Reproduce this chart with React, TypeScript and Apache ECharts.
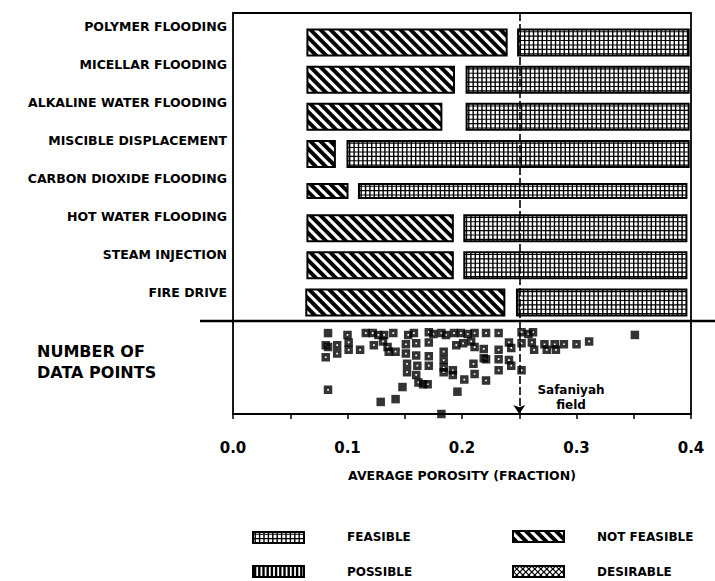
import React, { useEffect, useRef } from 'react';
import * as echarts from 'echarts';

// ---------- data ----------
const methods = [
  'POLYMER FLOODING',
  'MICELLAR FLOODING',
  'ALKALINE WATER FLOODING',
  'MISCIBLE DISPLACEMENT',
  'CARBON DIOXIDE FLOODING',
  'HOT WATER FLOODING',
  'STEAM INJECTION',
  'FIRE DRIVE',
];
const notFeasibleFrom = [0.065, 0.065, 0.065, 0.065, 0.065, 0.065, 0.065, 0.064];
const notFeasibleTo = [0.239, 0.193, 0.182, 0.089, 0.1, 0.192, 0.192, 0.237];
const feasibleFrom = [0.249, 0.204, 0.204, 0.1, 0.11, 0.202, 0.202, 0.248];
const feasibleTo = [0.398, 0.398, 0.398, 0.398, 0.396, 0.396, 0.396, 0.396];

const safaniyahPorosity = 0.25;

// data points (porosity, vertical position in the strip)
const pointPorosity = [
  0.1, 0.116, 0.122, 0.127, 0.132, 0.14, 0.153, 0.158, 0.171, 0.175, 0.182, 0.186, 0.193, 0.199, 0.205, 0.211, 0.221, 0.232, 0.252, 0.258, 0.262,
  0.081, 0.091, 0.101, 0.123, 0.131, 0.151, 0.16, 0.171, 0.195, 0.201, 0.208, 0.241, 0.252, 0.261, 0.272, 0.281, 0.289, 0.3, 0.311,
  0.083, 0.091, 0.101, 0.111, 0.135, 0.136, 0.142, 0.184, 0.211, 0.219, 0.232, 0.243, 0.263, 0.274, 0.282,
  0.081, 0.151, 0.16, 0.171, 0.184, 0.221, 0.232, 0.241, 0.219,
  0.152, 0.161, 0.171, 0.21, 0.243, 0.184,
  0.152, 0.16, 0.184, 0.192, 0.192, 0.211, 0.232, 0.252,
  0.162, 0.17, 0.202, 0.221,
  0.083,
];
const pointLevel = [
  8.5, 8.7, 8.7, 8.5, 8.5, 8.7, 8.5, 8.7, 8.8, 8.6, 8.7, 8.5, 8.7, 8.7, 8.6, 8.7, 8.7, 8.7, 8.8, 8.6, 8.8,
  7.4, 7.4, 7.7, 7.4, 7.8, 7.5, 7.6, 7.7, 7.4, 7.6, 7.8, 7.7, 7.6, 7.7, 7.5, 7.5, 7.5, 7.5, 7.8,
  7.2, 6.5, 6.9, 6.9, 7.2, 6.7, 6.7, 6.7, 7.2, 7.0, 6.9, 7.1, 6.9, 6.9, 6.9,
  6.1, 6.5, 6.3, 6.2, 5.8, 5.9, 5.9, 5.8, 6.0,
  5.4, 5.2, 5.2, 5.4, 5.2, 5.0,
  4.5, 4.2, 4.5, 4.7, 4.2, 4.3, 4.7, 4.7,
  3.4, 3.2, 3.7, 3.6,
  2.6,
];
const solidPorosity = [0.083, 0.351, 0.148, 0.142, 0.129, 0.196, 0.166, 0.182];
const solidLevel = [8.7, 8.5, 2.9, 1.6, 1.3, 2.4, 3.2, 0.0];

const FONT = '"DejaVu Sans", "Liberation Sans", sans-serif';

// ---------- pattern helpers ----------
type Pt = [number, number];
function clipHalf(poly: Pt[], f: (p: Pt) => number): Pt[] {
  const out: Pt[] = [];
  for (let i = 0; i < poly.length; i++) {
    const a = poly[i];
    const b = poly[(i + 1) % poly.length];
    const fa = f(a);
    const fb = f(b);
    if (fa >= 0) out.push(a);
    if ((fa >= 0) !== (fb >= 0)) {
      const t = fa / (fa - fb);
      out.push([a[0] + t * (b[0] - a[0]), a[1] + t * (b[1] - a[1])]);
    }
  }
  return out;
}
function bands(x0: number, y0: number, x1: number, y1: number, period: number, width: number, dir: number) {
  const rect: Pt[] = [[x0, y0], [x1, y0], [x1, y1], [x0, y1]];
  const u = (p: Pt) => p[0] - dir * p[1];
  const us = rect.map(u);
  const umin = Math.min(...us);
  const umax = Math.max(...us);
  const base = u([x0, y0]);
  const els: any[] = [];
  const nStart = Math.floor((umin - base) / period) - 1;
  const nEnd = Math.ceil((umax - base) / period) + 1;
  for (let n = nStart; n <= nEnd; n++) {
    const k = base + n * period;
    let poly = clipHalf(rect, (p) => u(p) - k);
    poly = clipHalf(poly, (p) => k + width - u(p));
    if (poly.length >= 3) {
      els.push({ type: 'polygon', shape: { points: poly }, style: { fill: '#000' }, silent: true });
    }
  }
  return els;
}
function gridLines(x0: number, y0: number, x1: number, y1: number, px: number, py: number, lwx: number, lwy: number) {
  const els: any[] = [];
  for (let x = x0 + px / 2; x < x1 - 0.5; x += px) {
    els.push({ type: 'line', shape: { x1: x, y1: y0, x2: x, y2: y1 }, style: { stroke: '#000', lineWidth: lwx }, silent: true });
  }
  if (py > 0) {
    for (let y = y0 + py / 2; y < y1 - 0.5; y += py) {
      els.push({ type: 'line', shape: { x1: x0, y1: y, x2: x1, y2: y }, style: { stroke: '#000', lineWidth: lwy }, silent: true });
    }
  }
  return els;
}
function swatch(kind: string, x0: number, y0: number, x1: number, y1: number) {
  const els: any[] = [
    { type: 'rect', shape: { x: x0, y: y0, width: x1 - x0, height: y1 - y0 }, style: { fill: '#fff' }, silent: true },
  ];
  if (kind === 'notFeasible') els.push(...bands(x0, y0, x1, y1, 10, 5.6, 1));
  else if (kind === 'feasible') els.push(...gridLines(x0, y0, x1, y1, 4.4, 4.4, 1.4, 1.1));
  else if (kind === 'possible') els.push(...gridLines(x0, y0, x1, y1, 4.2, 0, 2.4, 0));
  else if (kind === 'desirable') {
    els.push(...bands(x0, y0, x1, y1, 6, 1.6, 1), ...bands(x0, y0, x1, y1, 6, 1.6, -1));
  }
  els.push({
    type: 'rect',
    shape: { x: x0, y: y0, width: x1 - x0, height: y1 - y0 },
    style: { fill: 'none', stroke: '#000', lineWidth: 2 },
    silent: true,
  });
  return els;
}

function barRenderer(kind: string) {
  return (params: any, api: any) => {
    const row = api.value(0);
    const a = api.coord([api.value(1), row]);
    const b = api.coord([api.value(2), row]);
    const band = api.size([0, 1])[1];
    const thick = band * (row === 4 ? 0.38 : 0.7);
    const y0 = a[1] - thick / 2;
    const y1 = a[1] + thick / 2;
    return { type: 'group', children: swatch(kind, a[0], y0, b[0], y1) };
  };
}

export default function App() {
  const ref = useRef<HTMLDivElement>(null);
  useEffect(() => {
    document.body.style.margin = '0';
    const chart = echarts.init(ref.current!, null, { renderer: 'svg' });
    const left = 233;
    const width = 458;

    const legendItems = [
      { kind: 'feasible', label: 'FEASIBLE', sx: 253, sy: 532, tx: 347, ty: 537 },
      { kind: 'notFeasible', label: 'NOT FEASIBLE', sx: 513, sy: 531, tx: 597, ty: 537 },
      { kind: 'possible', label: 'POSSIBLE', sx: 253, sy: 566, tx: 347, ty: 572 },
      { kind: 'desirable', label: 'DESIRABLE', sx: 513, sy: 566, tx: 597, ty: 572 },
    ];
    const legendEls: any[] = [];
    legendItems.forEach((it) => {
      legendEls.push({ type: 'group', children: swatch(it.kind, it.sx, it.sy, it.sx + 51, it.sy + 11) });
      legendEls.push({
        type: 'text',
        style: {
          text: it.label, x: it.tx, y: it.ty,
          font: `bold 12px ${FONT}`, fill: '#000',
          textAlign: 'left', textVerticalAlign: 'middle', align: 'left', verticalAlign: 'middle',
        },
      });
    });

    const option: any = {
      animation: false,
      backgroundColor: '#fff',
      grid: [
        { left, width, top: 7, height: 305 }, // labels
        { left, width, top: 24, height: 297 }, // bars
        { left, width, top: 321, height: 93 }, // data points
        { left, width, top: 13, height: 401, show: true, borderColor: '#000', borderWidth: 1.8, backgroundColor: 'transparent' },
      ],
      xAxis: [
        { gridIndex: 0, type: 'value', min: 0, max: 0.4, show: false },
        { gridIndex: 1, type: 'value', min: 0, max: 0.4, show: false },
        {
          gridIndex: 2, type: 'value', min: 0, max: 0.4, interval: 0.05,
          axisLine: { show: true, lineStyle: { color: '#000', width: 2 } },
          axisTick: { show: true, length: 5, lineStyle: { color: '#000', width: 1.5 } },
          splitLine: { show: false },
          axisLabel: {
            margin: 26, color: '#000', fontFamily: FONT, fontWeight: 'bold', fontSize: 15,
            formatter: (v: number) => (Math.round(v / 0.05) % 2 === 0 ? v.toFixed(1) : ''),
          },
          name: 'AVERAGE POROSITY (FRACTION)', nameLocation: 'middle', nameGap: 55,
          nameTextStyle: { color: '#000', fontFamily: FONT, fontWeight: 'bold', fontSize: 12.5 },
        },
        { gridIndex: 3, type: 'value', min: 0, max: 0.4, show: false },
      ],
      yAxis: [
        {
          gridIndex: 0, type: 'category', inverse: true, data: methods,
          axisLine: { show: false }, axisTick: { show: false }, splitLine: { show: false },
          axisLabel: { margin: 6, color: '#000', fontFamily: FONT, fontWeight: 'bold', fontSize: 12.5 },
        },
        { gridIndex: 1, type: 'category', inverse: true, data: methods, show: false },
        { gridIndex: 2, type: 'value', min: 0, max: 10, show: false },
        { gridIndex: 3, type: 'value', min: 0, max: 1, show: false },
      ],
      series: [
        {
          name: 'NOT FEASIBLE', type: 'custom', xAxisIndex: 1, yAxisIndex: 1, z: 2,
          encode: { x: [1, 2], y: 0 },
          data: methods.map((_, i) => [i, notFeasibleFrom[i], notFeasibleTo[i]]),
          renderItem: barRenderer('notFeasible'),
        },
        {
          name: 'FEASIBLE', type: 'custom', xAxisIndex: 1, yAxisIndex: 1, z: 2,
          encode: { x: [1, 2], y: 0 },
          data: methods.map((_, i) => [i, feasibleFrom[i], feasibleTo[i]]),
          renderItem: barRenderer('feasible'),
        },
        {
          name: 'DATA POINTS', type: 'scatter', xAxisIndex: 2, yAxisIndex: 2, z: 3,
          symbol: 'path://M0 0H10V10H0Z M4 4V6H6V4Z', symbolSize: 8.5,
          itemStyle: { color: '#000' },
          data: pointPorosity.map((p, i) => [p, pointLevel[i]]),
        },
        {
          name: 'DATA POINTS (solid)', type: 'scatter', xAxisIndex: 2, yAxisIndex: 2, z: 3,
          symbol: 'rect', symbolSize: 8.5,
          itemStyle: { color: '#000' },
          data: solidPorosity.map((p, i) => [p, solidLevel[i]]),
        },
        {
          name: 'Safaniyah', type: 'line', xAxisIndex: 3, yAxisIndex: 3, z: 10, data: [], silent: true,
          markLine: {
            silent: true, symbol: ['none', 'arrow'], symbolSize: 9,
            label: { show: false },
            lineStyle: { color: '#000', width: 1.6, type: [8, 3] },
            data: [[{ coord: [safaniyahPorosity, 1] }, { coord: [safaniyahPorosity, 0] }]],
          },
        },
      ],
      graphic: {
        elements: [
          { type: 'line', z: 50, shape: { x1: 200, y1: 321, x2: 715, y2: 321 }, style: { stroke: '#000', lineWidth: 2.5 } },
          {
            type: 'text', z: 50,
            style: {
              text: 'NUMBER OF\nDATA POINTS', x: 37, y: 340.5, font: `bold 16px ${FONT}`, fill: '#000',
              lineHeight: 21, textAlign: 'left', textVerticalAlign: 'top', align: 'left', verticalAlign: 'top',
            },
          },
          {
            type: 'text', z: 50,
            style: {
              text: 'Safaniyah\nfield', x: 571, y: 382.5, font: `bold 12px ${FONT}`, fill: '#000',
              lineHeight: 15, textAlign: 'center', textVerticalAlign: 'top', align: 'center', verticalAlign: 'top',
            },
          },
          ...legendEls,
        ],
      },
    };
    chart.setOption(option);
    return () => chart.dispose();
  }, []);
  return <div ref={ref} style={{ width: 715, height: 581 }} />;
}
